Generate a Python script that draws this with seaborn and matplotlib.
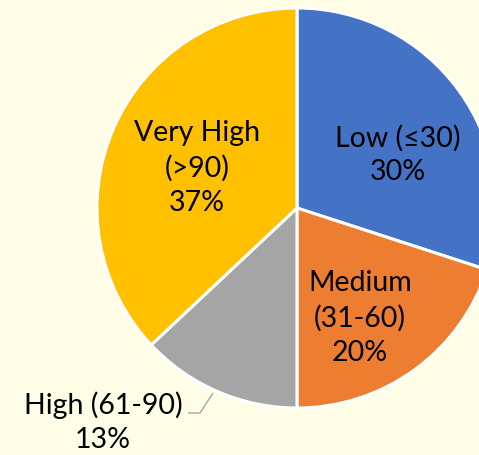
import matplotlib
matplotlib.use("Agg")
import matplotlib.pyplot as plt
import seaborn as sns

# Share of readings by level
categories = ["Low (≤30)", "Medium\n(31-60)", "High (61-90)", "Very High\n(>90)"]
shares = [30, 20, 13, 37]
colors = ["#4472C4", "#ED7D31", "#A5A5A5", "#FFC000"]

sns.set_theme(style="white")
plt.rcParams["font.family"] = ["Lato", "DejaVu Sans"]

bg = "#FFFDE6"
fig = plt.figure(figsize=(4.79, 4.55), dpi=100, facecolor=bg)
ax = fig.add_axes([0, 0, 1, 1])
ax.set_facecolor(bg)

ax.pie(shares, colors=colors, startangle=90, counterclock=False, radius=1.0,
       wedgeprops=dict(edgecolor="white", linewidth=2.2))

# frame: centre sits left of middle, right side cropped
ax.set_xlim(-1.485, 0.91)
ax.set_ylim(-1.235, 1.04)
ax.set_aspect("auto")
ax.axis("off")

label_pos = [(0.505, 0.265), (0.315, -0.55), (-0.97, -1.07), (-0.50, 0.20)]
for cat, v, (x, y) in zip(categories, shares, label_pos):
    ax.text(x, y, f"{cat}\n{v}%", ha="center", va="center", fontsize=20.5,
            color="#000000", linespacing=1.38)

# leader line for the small slice
ax.plot([-0.545, -0.485, -0.42], [-1.025, -1.025, -0.925], color="#A6A6A6",
        lw=1.0, solid_capstyle="butt")

fig.savefig("out.png", dpi=100, facecolor=bg)
